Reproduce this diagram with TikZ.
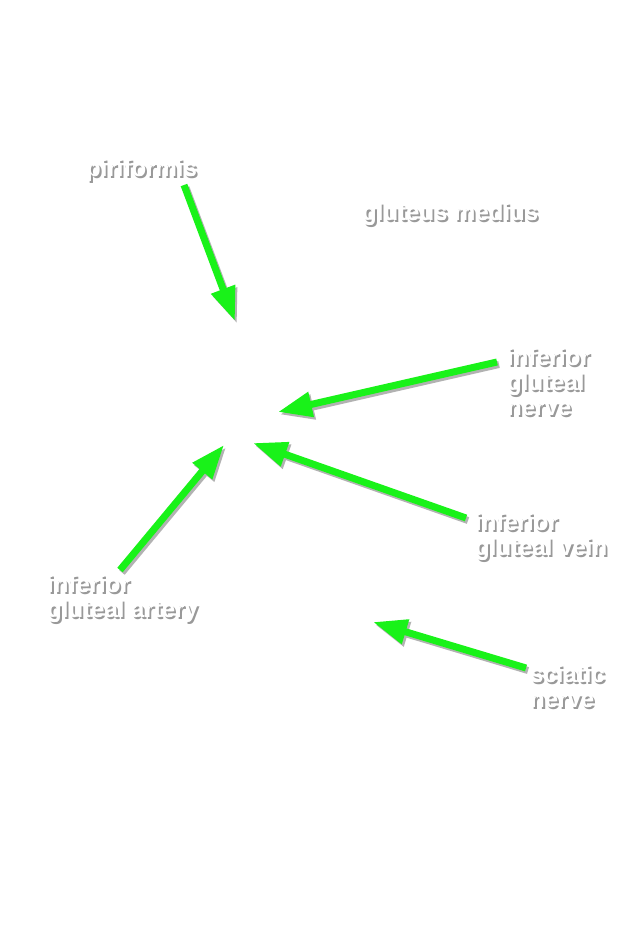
\documentclass[tikz,border=0pt]{standalone}
\usepackage{fontspec}
\setmainfont{Liberation Sans}
\usetikzlibrary{arrows.meta}
\definecolor{arrowgreen}{RGB}{25,242,25}
\tikzset{
  lbl/.style={anchor=north west, inner sep=0pt, align=left, text=white,
    font=\fontsize{24}{25}\selectfont\bfseries},
  lblshadow/.style={lbl, text=gray!80},
  ptr/.style={line width=7pt, draw=arrowgreen, fill=arrowgreen,
    -{Triangle[length=34pt,width=24pt]}},
  ptrshadow/.style={ptr, draw=gray!60, fill=gray!60},
}
\newcommand{\shlabel}[4]{% name, x, y(top), text
  \node[lblshadow] at (#2+1.8,#3+2) {#4};
  \node[lbl] (#1) at (#2,#3) {#4};
}
\newcommand{\sharrow}[2]{% from, to
  \draw[ptrshadow] ([shift={(2pt,-2.5pt)}]#1) -- ([shift={(2pt,-2.5pt)}]#2);
  \draw[ptr] (#1) -- (#2);
}
\begin{document}
\begin{tikzpicture}[x=1pt,y=-1pt]
  \useasboundingbox[fill=white] (0,0) rectangle (631,950);

  % labels (x, top of first line)
  \shlabel{piri}{86}{159}{piriformis}
  \shlabel{glmed}{362}{203}{gluteus medius}
  \shlabel{ignerve}{507}{348}{inferior\\gluteal\\nerve}
  \shlabel{igvein}{475}{513}{inferior\\gluteal vein}
  \shlabel{igartery}{47}{575}{inferior\\gluteal artery}
  \shlabel{sciatic}{530}{665}{sciatic\\nerve}

  % arrow ends
  \coordinate (t1) at (184,185);  \coordinate (h1) at (235,321);
  \coordinate (t2) at (497,362);  \coordinate (h2) at (278,412);
  \coordinate (t3) at (466,518);  \coordinate (h3) at (253,443);
  \coordinate (t4) at (120,570);  \coordinate (h4) at (224,445);
  \coordinate (t5) at (526,668);  \coordinate (h5) at (373,622);

  \sharrow{t1}{h1}
  \sharrow{t2}{h2}
  \sharrow{t3}{h3}
  \sharrow{t4}{h4}
  \sharrow{t5}{h5}
\end{tikzpicture}
\end{document}
